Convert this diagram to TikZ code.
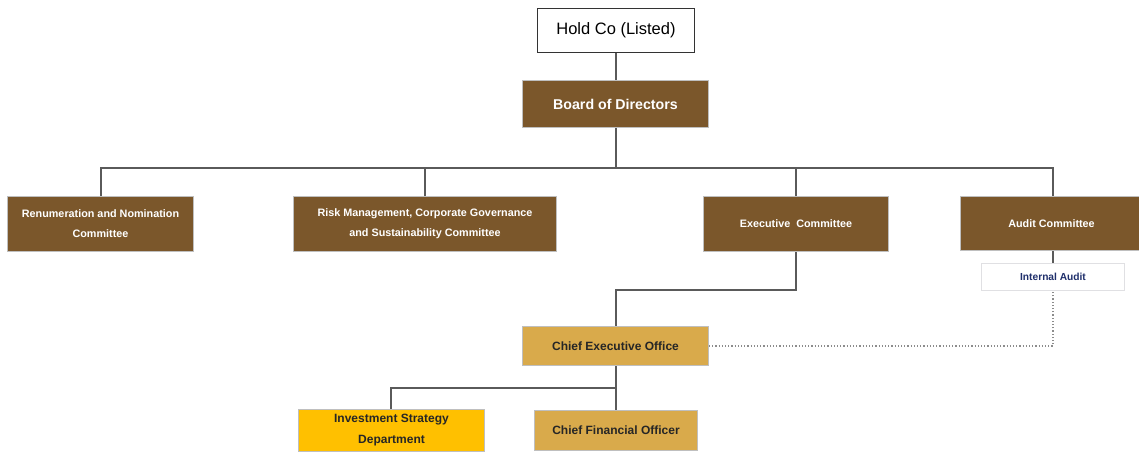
\documentclass[tikz,border=0pt]{standalone}
\usepackage{fontspec}
\setmainfont{Liberation Sans}
\definecolor{brown}{HTML}{7B572B}
\definecolor{gold}{HTML}{D9AA4B}
\definecolor{yel}{HTML}{FFC000}
\definecolor{navy}{HTML}{1F2F6B}
\definecolor{ln}{HTML}{5A5A5A}
\begin{document}
\begin{tikzpicture}[x=1pt,y=-1pt,
  box/.style={draw=black!25,line width=1pt,inner sep=0pt,align=center,anchor=north west},
  bbox/.style={box,fill=brown,text=white,font=\bfseries\fontsize{10.8}{20}\selectfont},
  gbox/.style={box,fill=gold,text=black!85,font=\bfseries\fontsize{12}{21}\selectfont},
  conn/.style={draw=ln,line width=1.1pt},
  dotconn/.style={draw=black!45,line width=1.2pt,dotted}]
\useasboundingbox (0,0) rectangle (1139,455);
\node[box,draw=black!80,fill=white,font=\fontsize{16.5}{19}\selectfont,minimum width=157pt,minimum height=44pt] (hold) at (537,8) {Hold Co (Listed)};
\node[bbox,font=\bfseries\fontsize{14.2}{17}\selectfont,minimum width=186pt,minimum height=47pt] (board) at (522,80) {Board of Directors};
\node[bbox,minimum width=186pt,minimum height=55pt] (renum) at (7,196) {Renumeration and Nomination\\Committee};
\node[bbox,minimum width=263pt,minimum height=55pt] (risk) at (293,196) {Risk Management, Corporate Governance\\and Sustainability Committee};
\node[bbox,minimum width=185pt,minimum height=55pt] (exec) at (703,196) {Executive\ \ Committee};
\node[bbox,minimum width=182pt,minimum height=54pt] (audit) at (960,196) {Audit Committee};
\node[box,draw=blue!10!black!12,fill=white,text=navy,font=\bfseries\fontsize{10.2}{12}\selectfont,minimum width=143pt,minimum height=27pt] (ia) at (981,263) {Internal Audit};
\node[gbox,minimum width=186pt,minimum height=39pt] (ceo) at (522,326) {Chief Executive Office};
\node[gbox,fill=yel,minimum width=186pt,minimum height=42pt] (isd) at (298,409) {Investment Strategy\\Department};
\node[gbox,minimum width=163pt,minimum height=40pt] (cfo) at (534,410) {Chief Financial Officer};
\coordinate (bus) at (616,168);
\draw[conn] (hold.south -| bus) -- (board.north -| bus);
\draw[conn] (board.south -| bus) -- (bus);
\draw[conn] (renum.north -| 101,0) |- (bus) -| (audit.north -| 1053,0);
\draw[conn] (risk.north -| 425,0) -- (425,168);
\draw[conn] (exec.north -| 796,0) -- (796,168);
\draw[conn] (audit.south -| 1053,0) -- (ia.north -| 1053,0);
\draw[conn] (exec.south -| 796,0) |- (616,290) -- (ceo.north -| bus);
\draw[conn] (ceo.south -| bus) -- (cfo.north -| bus);
\draw[conn] (616,388) -| (isd.north -| 391,0);
\draw[dotconn] (ceo.east) -| (ia.south -| 1053,0);
\end{tikzpicture}
\end{document}
